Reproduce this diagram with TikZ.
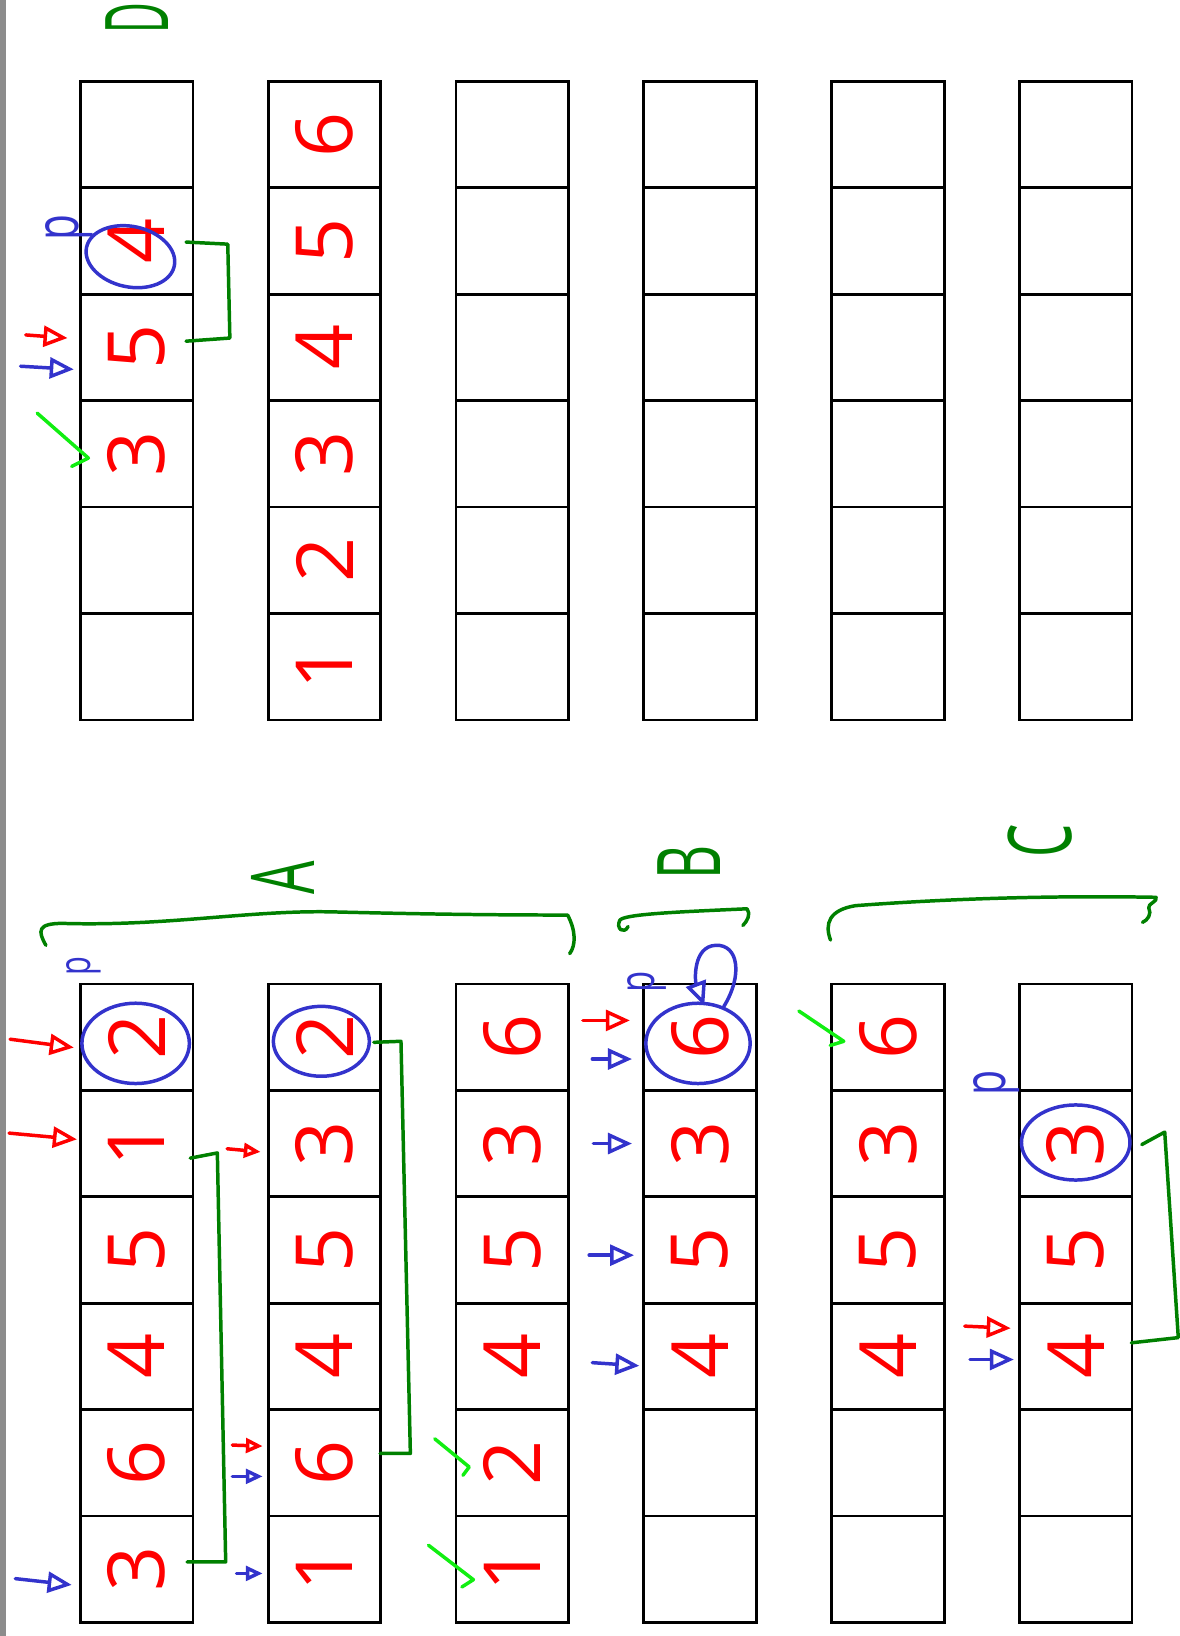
\documentclass[tikz,border=0pt]{standalone}
\usepackage{fontspec}
\setmainfont{Open Sans}
\usetikzlibrary{arrows.meta,shapes.geometric}
\definecolor{penred}{HTML}{FF0000}
\definecolor{penblue}{HTML}{3333CC}
\definecolor{pengreen}{HTML}{008000}
\definecolor{penlime}{HTML}{11EE11}
\definecolor{edgegray}{HTML}{8C8C8C}
\begin{document}
\begin{tikzpicture}[x=0.02cm,y=-0.02cm,
  cell/.style={draw,line width=1.5pt,minimum width=2.16cm,minimum height=2.04cm,inner sep=0pt},
  num/.style={text=penred,rotate=90,font=\fontsize{43}{43}\selectfont,inner sep=0pt},
  letter/.style={text=pengreen,rotate=90,xscale=0.6,font=\fontsize{48}{48}\selectfont,inner sep=0pt},
  pmark/.style={text=penblue,rotate=90,xscale=0.7,inner sep=0pt},
  pivot/.style={draw=penblue,ellipse,line width=1.9pt,inner sep=0pt},
  brk/.style={draw=pengreen,line width=1.9pt,line cap=round,line join=round},
  tick/.style={draw=penlime,line width=1.9pt,line cap=round,line join=round},
  rarr/.style={draw=penred,line width=1.9pt,line cap=round,-{Triangle[open,length=0.46cm,width=0.4cm]}},
  barr/.style={draw=penblue,line width=1.9pt,line cap=round,-{Triangle[open,length=0.46cm,width=0.4cm]}},
  small/.style={-{Triangle[open,length=0.32cm,width=0.28cm]}}]
  \useasboundingbox (0,0) rectangle (1130,1568);
  \fill[edgegray] (0,0) rectangle (6,1568);
  \foreach \c in {1,...,6}
    \foreach \r in {1,...,6} {
      \node[cell] (t\c\r) at ({131+180*(\c-1)},{129+102*(\r-1)}) {};
      \node[cell] (b\c\r) at ({131+180*(\c-1)},{994+102*(\r-1)}) {};
    }
  \foreach \c/\r/\v in {1/2/4,1/3/5,1/4/3,2/1/6,2/2/5,2/3/4,2/4/3,2/5/2,2/6/1}
    \node[num] (nt\c\r) at (t\c\r) {\v};
  \foreach \c/\r/\v in {1/1/2,1/2/1,1/3/5,1/4/4,1/5/6,1/6/3,
                        2/1/2,2/2/3,2/3/5,2/4/4,2/5/6,2/6/1,
                        3/1/6,3/2/3,3/3/5,3/4/4,3/5/2,3/6/1,
                        4/1/6,4/2/3,4/3/5,4/4/4,
                        5/1/6,5/2/3,5/3/5,5/4/4,
                        6/2/3,6/3/5,6/4/4}
    \node[num] (nb\c\r) at (b\c\r) {\v};
  \node[pivot,minimum width=1.72cm,minimum height=1.16cm,rotate=-12] (ct12) at (125,246) {};
  \node[pivot,minimum width=2.06cm,minimum height=1.54cm] (cb11) at (130,1000) {};
  \node[pivot,minimum width=1.84cm,minimum height=1.34cm] (cb21) at (308,998) {};
  \node[pivot,minimum width=2.0cm,minimum height=1.54cm] (cb41) at (669,1000) {};
  \node[pivot,minimum width=2.08cm,minimum height=1.44cm] (cb62) at (1031,1095) {};
  \node[letter,xscale=0.8] (lD) at (131,17) {D};
  \node[letter] (lA) at (271,841) {A};
  \node[letter] (lB) at (660,827) {B};
  \node[letter] (lC) at (997,806) {C};
  \node[pmark,font=\fontsize{33}{33}\selectfont] (pt12) at (66,218) {p};
  \node[pmark,font=\fontsize{24}{24}\selectfont] (pb11) at (80,926) {p};
  \node[pmark,font=\fontsize{27}{27}\selectfont] (pb41) at (620,941) {p};
  \node[pmark,font=\fontsize{32}{32}\selectfont] (pb62) at (955,1038) {p};
  \draw[rarr] ([shift={(-51,-12)}]t13.west) -- ([shift={(-11,-9)}]t13.west);
  \draw[barr] ([shift={(-56,18)}]t13.west) -- ([shift={(-5,21)}]t13.west);
  \draw[rarr] ([shift={(-66,2)}]b11.west) -- ([shift={(-5,10)}]b11.west);
  \draw[rarr] ([shift={(-67,-10)}]b12.west) -- ([shift={(-2,-4)}]b12.west);
  \draw[barr] ([shift={(-61,9)}]b16.west) -- ([shift={(-7,15)}]b16.west);
  \draw[rarr,small] ([shift={(-38,5)}]b22.west) -- ([shift={(-6,8)}]b22.west);
  \draw[rarr,small] ([shift={(-33,-17)}]b25.west) -- ([shift={(-4,-16)}]b25.west);
  \draw[barr,small] ([shift={(-33,13)}]b25.west) -- ([shift={(-4,13)}]b25.west);
  \draw[barr,small] ([shift={(-29,4)}]b26.west) -- ([shift={(-4,4)}]b26.west);
  \draw[rarr] ([shift={(-57,-16)}]b41.west) -- ([shift={(-12,-16)}]b41.west);
  \draw[barr] ([shift={(-48,21)}]b41.west) -- ([shift={(-10,21)}]b41.west);
  \draw[barr] ([shift={(-47,0)}]b42.west) -- ([shift={(-10,0)}]b42.west);
  \draw[barr] ([shift={(-51,5)}]b43.west) -- ([shift={(-8,5)}]b43.west);
  \draw[barr] ([shift={(-48,6)}]b44.west) -- ([shift={(-3,9)}]b44.west);
  \draw[rarr] ([shift={(-51,-29)}]b64.west) -- ([shift={(-7,-27)}]b64.west);
  \draw[barr] ([shift={(-46,3)}]b64.west) -- ([shift={(-4,3)}]b64.west);
  \draw[barr] (cb41.55) .. controls (712,935) and (708,905) .. (686,906)
    .. controls (664,907) and (666,940) .. ([shift={(6,4)}]cb41.north);
  \draw[tick] ([shift={(-40,-39)}]t14.west) -- ([shift={(9,4)}]t14.west) -- ([shift={(-7,12)}]t14.west);
  \draw[tick] ([shift={(-19,-23)}]b35.west) -- ([shift={(14,4)}]b35.west) -- ([shift={(8,12)}]b35.west);
  \draw[tick] ([shift={(-25,-23)}]b36.west) -- ([shift={(18,10)}]b36.west) -- ([shift={(7,17)}]b36.west);
  \draw[tick] ([shift={(-30,-25)}]b51.west) -- ([shift={(13,4)}]b51.west) -- ([shift={(0,8)}]b51.west);
  \draw[brk] ([shift={(-8,1)}]t12.east) -- ([shift={(32,3)}]t12.east)
    -- ([shift={(34,-9)}]t13.east) -- ([shift={(-8,-6)}]t13.east);
  \draw[brk] ([shift={(-4,14)}]b12.east) -- ([shift={(22,9)}]b12.east)
    -- ([shift={(30,-7)}]b16.east) -- ([shift={(-7,-7)}]b16.east);
  \draw[brk] ([shift={(-8,5)}]b21.east) -- ([shift={(18,4)}]b21.east)
    -- ([shift={(27,-9)}]b25.east) -- ([shift={(-2,-9)}]b25.east);
  \draw[brk] ([shift={(8,1)}]b62.east) -- ([shift={(30,-11)}]b62.east)
    -- ([shift={(43,-18)}]b64.east) -- ([shift={(-2,-13)}]b64.east);
  \draw[brk] (44,906) .. controls (36,892) and (36,885) .. (60,885)
    .. controls (160,888) and (240,872) .. (320,874)
    .. controls (400,876) and (470,877) .. (544,877)
    .. controls (552,892) and (552,906) .. (546,914);
  \draw[brk] (602,888) .. controls (598,896) and (590,890) .. (594,882)
    .. controls (598,876) and (650,874) .. (716,871)
    .. controls (720,876) and (716,883) .. (712,887);
  \draw[brk] (796,901) .. controls (790,885) and (795,872) .. (820,868)
    .. controls (900,862) and (1000,858) .. (1108,860)
    .. controls (1110,864) and (1100,866) .. (1101,870)
    .. controls (1104,876) and (1100,882) .. (1095,884);
\end{tikzpicture}
\end{document}
